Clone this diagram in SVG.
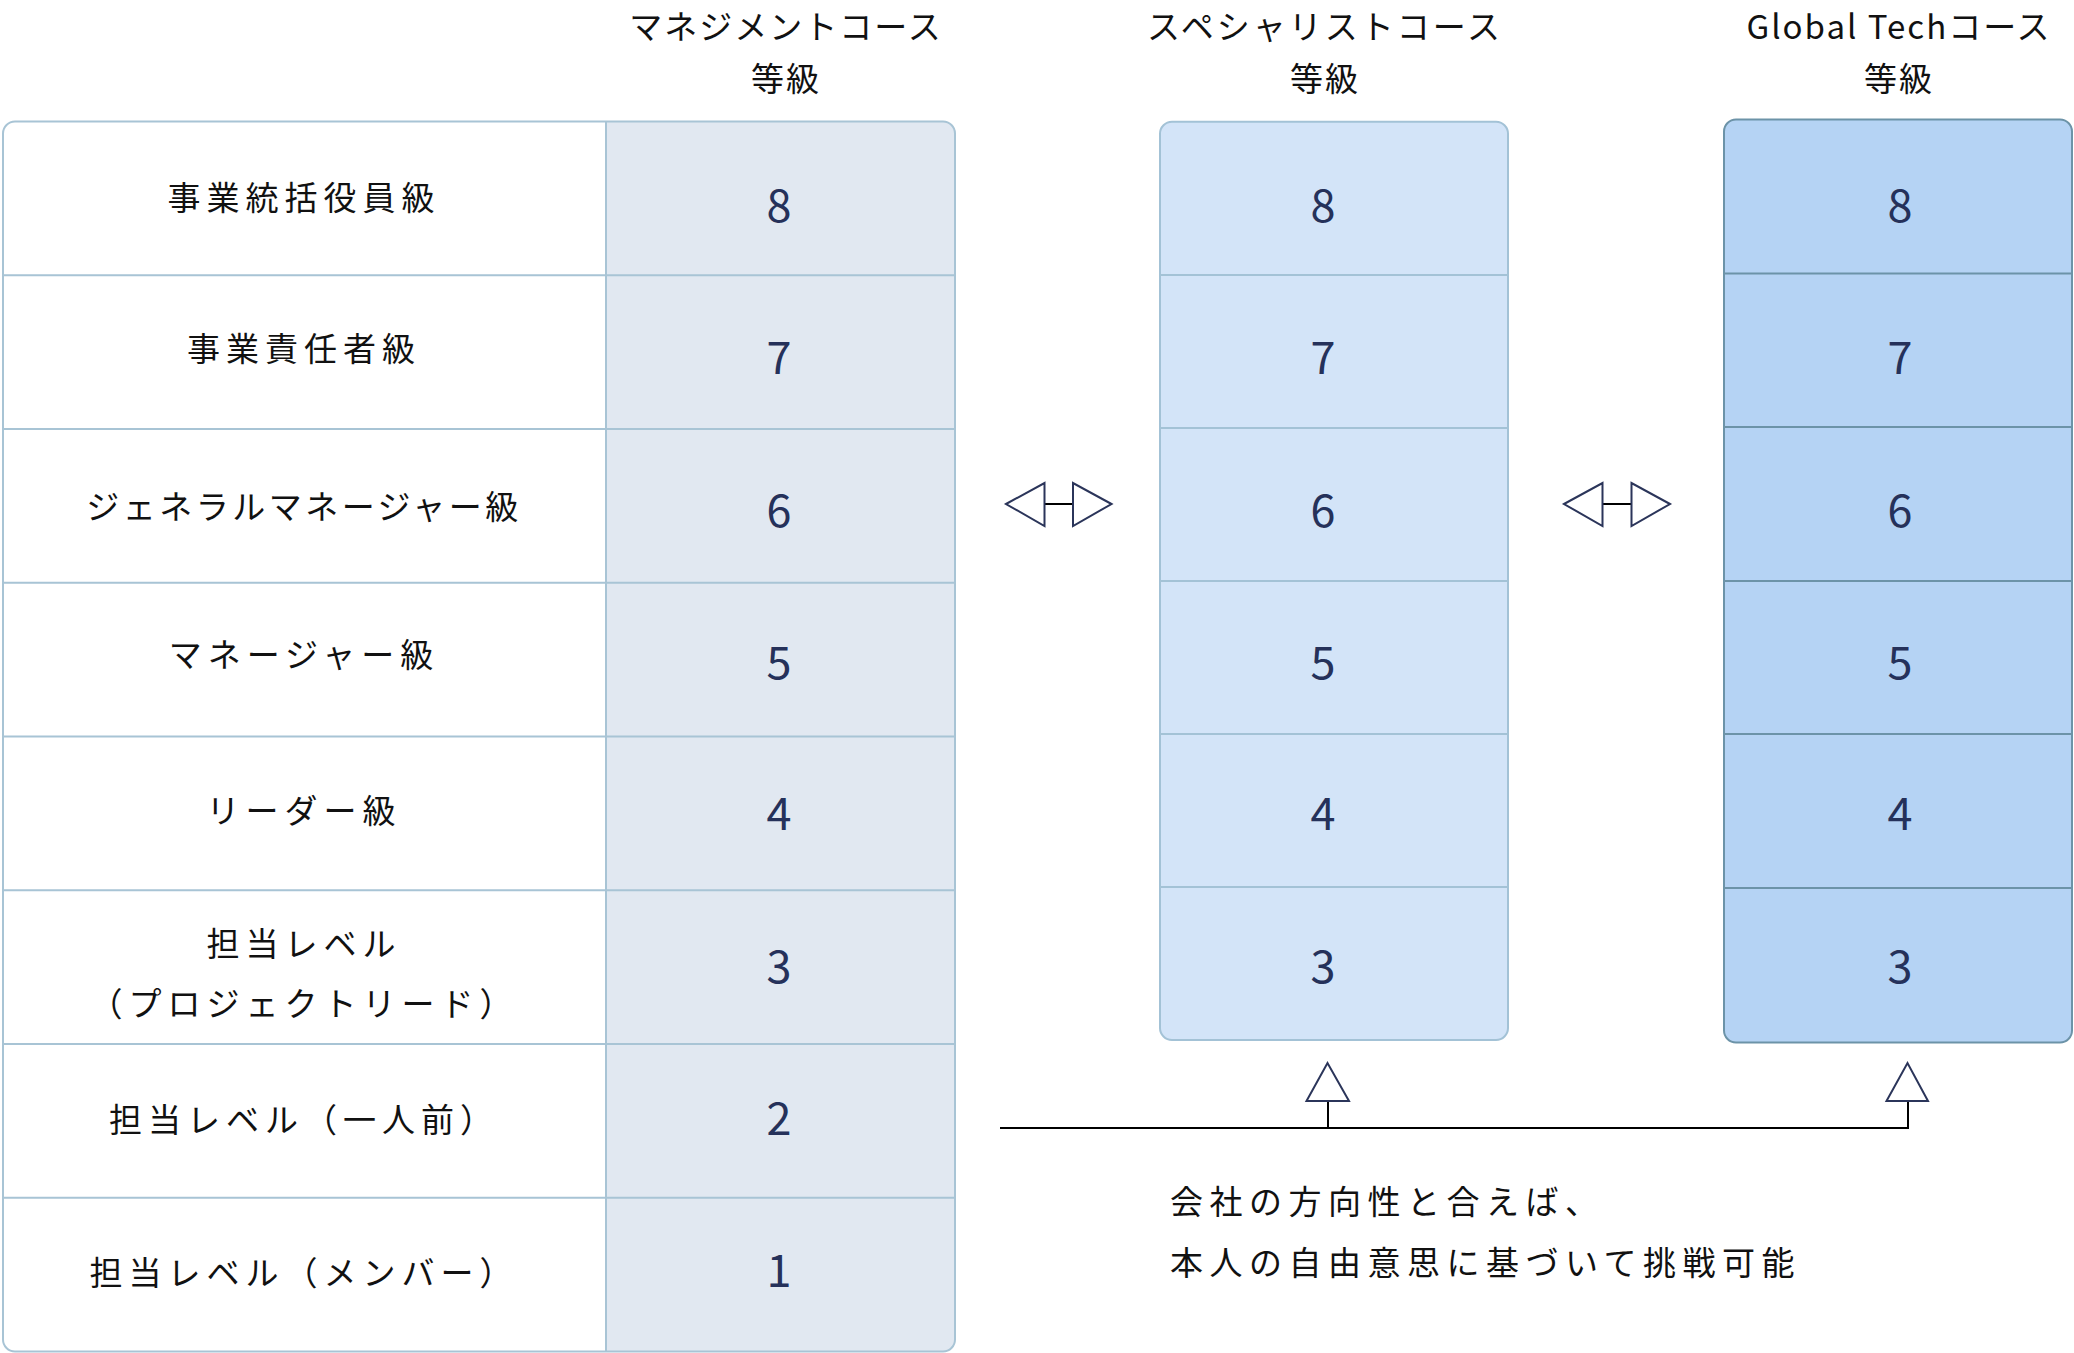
<svg xmlns="http://www.w3.org/2000/svg" width="2074" height="1353" viewBox="0 0 2074 1353">
<style>
.t{font-family:"Noto Sans CJK JP","Noto Sans",sans-serif;fill:#111;}
.head{font-size:33px;letter-spacing:2px;text-anchor:middle;}
.lab{font-size:33px;letter-spacing:6px;text-anchor:middle;}
.num{font-family:"Noto Sans CJK JP","Noto Sans",sans-serif;font-size:45px;fill:#25315a;text-anchor:middle;}
.note{font-size:33px;letter-spacing:6.5px;}
.div1{stroke:#a8c4d5;stroke-width:2;fill:none;}
.div3{stroke:#6c93a8;stroke-width:2;fill:none;}
.line{stroke:#000;stroke-width:2;fill:none;}
.tri{fill:#fff;stroke:#2b355a;stroke-width:2;stroke-linejoin:miter;}
</style>
<rect width="2074" height="1353" fill="#fff"/>

<g id="headings">
<text class="t head" x="786" y="39">マネジメントコース</text>
<text class="t head" x="786" y="91">等級</text>
<text class="t head" x="1325" y="39" style="letter-spacing:3px">スペシャリストコース</text>
<text class="t head" x="1325" y="91">等級</text>
<text class="t head" x="1899" y="39">Global Techコース</text>
<text class="t head" x="1899" y="91">等級</text>
</g>

<g id="management">
<rect x="3" y="121.5" width="952" height="1230" rx="12" fill="#fff"/>
<path d="M606 121.5 H943 A12 12 0 0 1 955 133.5 V1339.5 A12 12 0 0 1 943 1351.5 H606 Z" fill="#e1e8f1"/>
<rect x="3" y="121.5" width="952" height="1230" rx="12" class="div1"/>
<path class="div1" d="M606 121.5 V1351.5 M3 275.25 H955 M3 429 H955 M3 582.75 H955 M3 736.5 H955 M3 890.25 H955 M3 1044 H955 M3 1197.75 H955"/>
<text class="t lab" x="304" y="210">事業統括役員級</text>
<text class="t lab" x="304" y="361">事業責任者級</text>
<text class="t lab" x="304" y="519" style="letter-spacing:3.5px">ジェネラルマネージャー級</text>
<text class="t lab" x="304" y="667">マネージャー級</text>
<text class="t lab" x="304" y="823">リーダー級</text>
<text class="t lab" x="304" y="956">担当レベル</text>
<text class="t lab" x="304" y="1016">（プロジェクトリード）</text>
<text class="t lab" x="304" y="1132">担当レベル（一人前）</text>
<text class="t lab" x="304" y="1285">担当レベル（メンバー）</text>
<text class="num" x="779" y="222">8</text>
<text class="num" x="779" y="374">7</text>
<text class="num" x="779" y="527">6</text>
<text class="num" x="779" y="679">5</text>
<text class="num" x="779" y="830">4</text>
<text class="num" x="779" y="983">3</text>
<text class="num" x="779" y="1135">2</text>
<text class="num" x="779" y="1287">1</text>
</g>

<g id="specialist">
<rect x="1160" y="121.7" width="348" height="918.3" rx="12" fill="#d3e4f8" stroke="#a3c2d6" stroke-width="2"/>
<path d="M1160 275 H1508 M1160 428 H1508 M1160 581 H1508 M1160 734 H1508 M1160 887 H1508" stroke="#a3c2d6" stroke-width="2"/>
<text class="num" x="1323" y="222">8</text>
<text class="num" x="1323" y="374">7</text>
<text class="num" x="1323" y="527">6</text>
<text class="num" x="1323" y="679">5</text>
<text class="num" x="1323" y="830">4</text>
<text class="num" x="1323" y="983">3</text>
</g>

<g id="globaltech">
<rect x="1724" y="119.5" width="348" height="923" rx="12" fill="#b5d3f4" stroke="#6c93a8" stroke-width="2"/>
<path class="div3" d="M1724 273.5 H2072 M1724 427 H2072 M1724 581 H2072 M1724 734 H2072 M1724 888 H2072"/>
<text class="num" x="1900" y="222">8</text>
<text class="num" x="1900" y="374">7</text>
<text class="num" x="1900" y="527">6</text>
<text class="num" x="1900" y="679">5</text>
<text class="num" x="1900" y="830">4</text>
<text class="num" x="1900" y="983">3</text>
</g>

<g id="connectors">
<line class="line" x1="1044" y1="504" x2="1073" y2="504"/>
<polygon class="tri" points="1006,504 1044.5,483 1044.5,526"/>
<polygon class="tri" points="1111.5,504 1073,483 1073,526"/>
<line class="line" x1="1602" y1="504" x2="1631" y2="504"/>
<polygon class="tri" points="1564,504 1602.5,483 1602.5,526"/>
<polygon class="tri" points="1670,504 1631.5,483 1631.5,526"/>
<path class="line" d="M1000 1128 H1908 V1101 M1328 1128 V1101"/>
<polygon class="tri" points="1306.5,1101 1349,1101 1327.5,1063"/>
<polygon class="tri" points="1886.5,1101 1928,1101 1907.5,1063"/>
</g>

<g id="note">
<text class="t note" x="1170" y="1214">会社の方向性と合えば、</text>
<text class="t note" x="1170" y="1275">本人の自由意思に基づいて挑戦可能</text>
</g>
</svg>
